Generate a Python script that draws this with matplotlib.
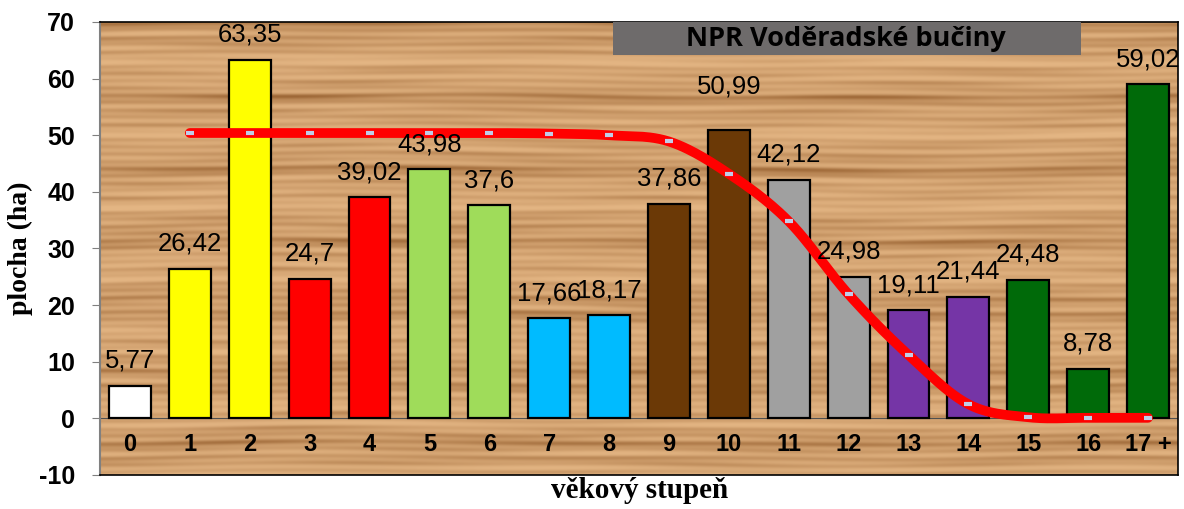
import numpy as np
import matplotlib
matplotlib.use("Agg")
import matplotlib.pyplot as plt
from matplotlib.patches import Rectangle

plt.rcParams["axes.unicode_minus"] = False

# data
stupne = ["0", "1", "2", "3", "4", "5", "6", "7", "8", "9", "10",
          "11", "12", "13", "14", "15", "16", "17 +"]
plocha = [5.77, 26.42, 63.35, 24.7, 39.02, 43.98, 37.6, 17.66, 18.17,
          37.86, 50.99, 42.12, 24.98, 19.11, 21.44, 24.48, 8.78, 59.02]
popisky = ["5,77", "26,42", "63,35", "24,7", "39,02", "43,98", "37,6", "17,66",
           "18,17", "37,86", "50,99", "42,12", "24,98", "19,11", "21,44",
           "24,48", "8,78", "59,02"]
barvy = ["#FFFFFF", "#FFFF00", "#FFFF00", "#FF0000", "#FF0000", "#9FDC5A",
         "#9FDC5A", "#00BBFF", "#00BBFF", "#6B3906", "#6B3906", "#A0A0A0",
         "#A0A0A0", "#7535A6", "#7535A6", "#006A09", "#006A09", "#006A09"]
# normal model curve (categories 1..17)
model_x = list(range(1, 18))
model_y = [50.4, 50.4, 50.4, 50.4, 50.4, 50.4, 50.3, 50.0, 48.9, 43.2,
           34.8, 21.9, 11.2, 2.5, 0.2, 0.1, 0.1]


def catmull_rom(xs, ys, n=25):
    xs = np.asarray(xs, float)
    ys = np.asarray(ys, float)
    px = np.concatenate([[2 * xs[0] - xs[1]], xs, [2 * xs[-1] - xs[-2]]])
    py = np.concatenate([[2 * ys[0] - ys[1]], ys, [2 * ys[-1] - ys[-2]]])
    outx, outy = [], []
    t = np.linspace(0, 1, n, endpoint=False)
    for i in range(1, len(px) - 2):
        for P, out in ((px, outx), (py, outy)):
            p0, p1, p2, p3 = P[i - 1], P[i], P[i + 1], P[i + 2]
            out.extend(0.5 * (2 * p1 + (-p0 + p2) * t
                              + (2 * p0 - 5 * p1 + 4 * p2 - p3) * t ** 2
                              + (-p0 + 3 * p1 - 3 * p2 + p3) * t ** 3))
    outx.append(xs[-1])
    outy.append(ys[-1])
    return np.array(outx), np.array(outy)


fig = plt.figure(figsize=(11.84, 5.09), dpi=100)
ax = fig.add_axes([100 / 1184, 34 / 509, 1078 / 1184, 453 / 509])

# wood-like background (irregular horizontal grain)
h, w = 453, 1078
yy, xx = np.mgrid[0:h, 0:w]
ph = yy + 1.2 * np.sin(xx / 160.0) + 0.8 * np.sin(xx / 61.0 + yy / 40.0)
mod1 = 0.5 + 0.5 * np.sin(xx / 83.0 + yy / 13.0)
mod2 = 0.5 + 0.5 * np.sin(xx / 47.0 - yy / 7.0 + 2.0)
grain = (0.35 * np.sin(ph / 2.3) * mod1 + 0.30 * np.sin(ph / 3.9 + 1.3) * mod2
         + 0.20 * np.sin(ph / 1.15 + 0.4) + 0.25 * np.sin(ph / 11.0 + 0.9))
grain = (grain - grain.min()) / (grain.max() - grain.min())
grain = grain ** 2.0
light = np.array([228, 182, 132]) / 255
dark = np.array([158, 104, 55]) / 255
img = light[None, None, :] * (1 - grain[..., None]) + dark[None, None, :] * grain[..., None]
ax.imshow(img, extent=[0, 1, 0, 1], transform=ax.transAxes, aspect="auto",
          zorder=0, interpolation="bilinear")

x = np.arange(len(stupne))
ax.bar(x, plocha, width=0.7, color=barvy, edgecolor="black", linewidth=1.6, zorder=2)
ax.axhline(0, color="#505050", linewidth=0.8, zorder=1.5)

for i, (v, s) in enumerate(zip(plocha, popisky)):
    off = 31 if i == 10 else 18
    ax.annotate(s, (i, v), xytext=(0, off), textcoords="offset points",
                ha="center", va="center", fontsize=18.5, family="Liberation Sans",
                zorder=4)

sx, sy = catmull_rom(model_x, model_y)
ax.plot(sx, sy, color="#FF0000", linewidth=7, solid_capstyle="round", zorder=3)
ax.plot(model_x, model_y, linestyle="none", marker="_", markersize=6,
        markeredgewidth=3, color="#C0CCE8", zorder=3.5)

for i, s in enumerate(stupne):
    ax.text(i, -4.6, s, ha="center", va="center", fontsize=17,
            fontweight="bold", family="Liberation Sans", zorder=4)

ax.set_xlim(-0.5, 17.5)
ax.set_ylim(-10, 70)
ax.set_xticks([])
ax.set_yticks(range(-10, 71, 10))
ax.tick_params(axis="y", length=6, color="#808080", pad=12)
for lab in ax.get_yticklabels():
    lab.set_fontsize(18)
    lab.set_fontweight("bold")
    lab.set_family("Liberation Sans")
ax.spines["left"].set_color("#808080")
ax.spines["left"].set_linewidth(1.5)
for sp in ("top", "right", "bottom"):
    ax.spines[sp].set_color("black")
    ax.spines[sp].set_linewidth(1.2)

ax.set_ylabel("plocha (ha)", fontsize=20, fontweight="bold",
              family="Liberation Serif", labelpad=4)
fig.text(640 / 1184, 1 - 491 / 509, "věkový stupeň", ha="center", va="center",
         fontsize=21, fontweight="bold", family="Liberation Serif")

# title box
box = Rectangle((613 / 1184, 1 - 55 / 509), 468 / 1184, 33 / 509,
                transform=fig.transFigure, facecolor="#6E6B6B",
                edgecolor="none", zorder=5)
fig.add_artist(box)
fig.text(846 / 1184, 1 - 39 / 509, "NPR Voděradské bučiny", ha="center", va="center",
         fontsize=19.5, fontweight="bold", family="Open Sans", zorder=6)

fig.savefig("out.png", dpi=100)
